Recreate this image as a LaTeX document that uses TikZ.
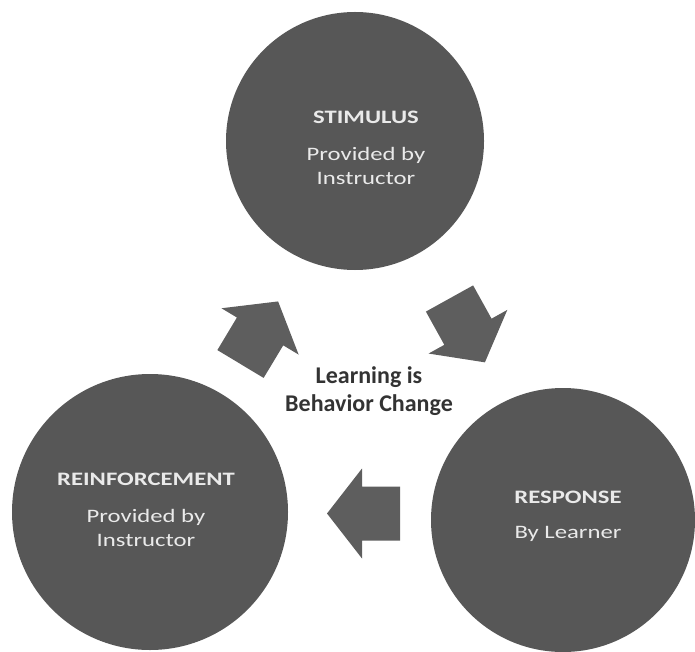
\documentclass[tikz,border=0pt]{standalone}
\usepackage{fontspec}
\setmainfont{Carlito}
\newfontfamily\widefont[FakeStretch=1.3]{Carlito}
\definecolor{ballgray}{HTML}{575757}
\definecolor{arrowgray}{HTML}{5E5E5E}
\definecolor{coretext}{HTML}{333333}
\definecolor{balltext}{HTML}{EAEAEA}
\tikzset{
  ball/.style={circle, fill=ballgray, inner sep=0pt, minimum size=#1},
  balllabel/.style={text=balltext, align=center, inner sep=0pt,
    font=\widefont\fontsize{19}{24}\selectfont},
  corelabel/.style={text=coretext, align=center, inner sep=0pt,
    font=\bfseries\fontsize{24}{28}\selectfont},
  % block arrow, tail at the origin, pointing along +x
  blockarrow/.pic={\fill[arrowgray] (0,-27) -- (38,-27) -- (38,-45) -- (73,0)
    -- (38,45) -- (38,27) -- (0,27) -- cycle;}
}
\begin{document}
\begin{tikzpicture}[x=1pt,y=-1pt]
\useasboundingbox (0,0) rectangle (695,652);
\clip (0,0) rectangle (695,652);

% the three stages
\node[ball=258pt] (stim) at (355,141) {};
\node[ball=276pt] (reinf) at (150,512) {};
\node[ball=264pt] (resp) at (563,520) {};

\node[balllabel] (stimtext) at (366,148)
  {\textbf{STIMULUS}\\[13pt]Provided by\\Instructor};
\node[balllabel] (reinftext) at (146,510)
  {\textbf{REINFORCEMENT}\\[13pt]Provided by\\Instructor};
\node[balllabel] (resptext) at (568,516)
  {\textbf{RESPONSE}\\[11pt]By Learner};

% arrows of the cycle
\pic[rotate=59] at (240.5,364) {blockarrow};
\pic[rotate=-61] at (449.5,298.5) {blockarrow};
\pic[rotate=180] at (400,513.5) {blockarrow};

% centre statement
\node[corelabel] (core) at (369,391) {Learning is\\Behavior Change};
\end{tikzpicture}
\end{document}
